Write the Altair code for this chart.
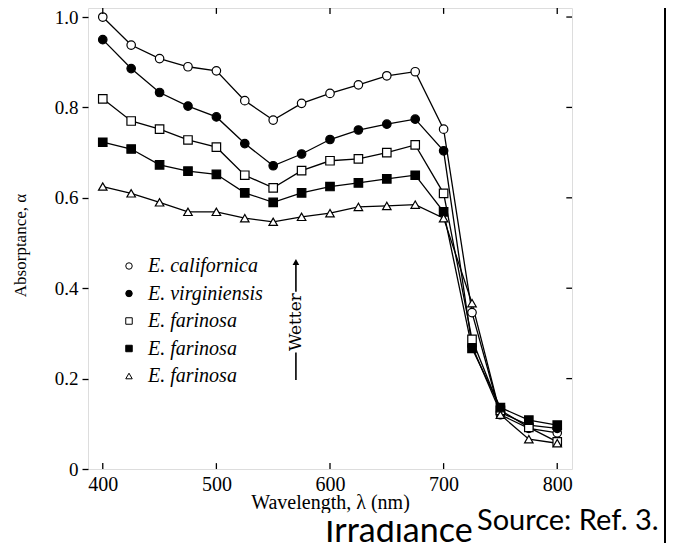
import altair as alt
import pandas as pd

# ---- data ----
wavelengths = [400, 425, 450, 475, 500, 525, 550, 575, 600, 625, 650, 675, 700, 725, 750, 775, 800]
californica = [1.000, 0.938, 0.908, 0.890, 0.881, 0.815, 0.772, 0.809, 0.831, 0.850, 0.870, 0.879, 0.752, 0.346, 0.120, 0.090, 0.080]
virginiensis = [0.950, 0.886, 0.833, 0.803, 0.779, 0.720, 0.671, 0.697, 0.729, 0.750, 0.763, 0.774, 0.704, 0.272, 0.125, 0.097, 0.090]
farinosa_open_sq = [0.819, 0.770, 0.752, 0.728, 0.712, 0.650, 0.622, 0.660, 0.682, 0.686, 0.700, 0.717, 0.610, 0.287, 0.130, 0.092, 0.060]
farinosa_filled_sq = [0.723, 0.708, 0.673, 0.659, 0.652, 0.611, 0.590, 0.611, 0.625, 0.633, 0.642, 0.650, 0.569, 0.267, 0.136, 0.108, 0.097]
farinosa_triangle = [0.625, 0.610, 0.590, 0.569, 0.569, 0.555, 0.547, 0.558, 0.566, 0.580, 0.582, 0.585, 0.555, 0.367, 0.120, 0.066, 0.057]

series_ids = ["E. californica", "E. virginiensis", "E. farinosa|1", "E. farinosa|2", "E. farinosa|3"]
series_values = [californica, virginiensis, farinosa_open_sq, farinosa_filled_sq, farinosa_triangle]
series_shapes = ["circle", "circle", "square", "square", "triangle-up"]
series_fills = ["white", "black", "white", "black", "white"]
series_strokes = ["black", "black", "black", "black", "black"]

x_ticks = [400, 500, 600, 700, 800]
y_ticks = [0, 0.2, 0.4, 0.6, 0.8, 1.0]
y_right_ticks = [0.2, 0.4, 0.6, 0.8, 1.0]

x_title = "Wavelength, λ (nm)"
y_title = "Absorptance, α"
source_text = ["Source: Ref. 3."]
irradiance_text = ["Irradiance"]

# Wetter arrow annotation (data coordinates)
wetter_x = 570
wetter_low = [0.197, 0.258]
wetter_high = [0.392, 0.452]
wetter_text_y = 0.325
wetter_head_y = 0.458

X_DOMAIN = [387, 813]
Y_DOMAIN = [0, 1.02]

# ---- build tables ----
rows = []
for sid, vals in zip(series_ids, series_values):
    for w, v in zip(wavelengths, vals):
        rows.append({"series": sid, "wavelength": w, "absorptance": v})
df = pd.DataFrame(rows)

xs = alt.Scale(domain=X_DOMAIN, nice=False, zero=False)
ys = alt.Scale(domain=Y_DOMAIN, nice=False, zero=False)

FONT = "Liberation Serif"

x_axis = alt.Axis(
    values=x_ticks, ticks=False, domain=False, grid=False,
    labelFont=FONT, labelFontSize=20, labelColor="black", labelPadding=5,
    title=x_title, titleFont=FONT, titleFontSize=20, titleFontWeight="normal",
    titleColor="black", titleY=39, titleBaseline="alphabetic",
)
y_axis = alt.Axis(
    values=y_ticks, ticks=True, tickSize=6, tickColor="black", tickWidth=1.3,
    domain=False, grid=False,
    labelExpr="datum.value == 0 ? '0' : format(datum.value, '.1f')",
    labelFont=FONT, labelFontSize=19, labelColor="black", labelPadding=4,
    title=y_title, titleFont=FONT, titleFontSize=17, titleFontWeight="normal",
    titleColor="black", titlePadding=25, titleY=237,
)

base = alt.Chart(df)

lines = base.mark_line(color="black", strokeWidth=1.3).encode(
    x=alt.X("wavelength:Q", scale=xs, axis=x_axis),
    y=alt.Y("absorptance:Q", scale=ys, axis=y_axis),
    detail="series:N",
)

legend = alt.Legend(
    title=None, orient="none", legendX=31, legendY=248, padding=0,
    labelExpr="split(datum.label, '|')[0]",
    labelFont=FONT, labelFontStyle="italic", labelFontSize=20, labelColor="black",
    labelOffset=9, symbolSize=42, symbolStrokeWidth=1,
    symbolOpacity=1, rowPadding=7.5,
)

points = base.mark_point(filled=True, strokeWidth=1.2, size=72, opacity=1).encode(
    x=alt.X("wavelength:Q", scale=xs),
    y=alt.Y("absorptance:Q", scale=ys),
    shape=alt.Shape("series:N", scale=alt.Scale(domain=series_ids, range=series_shapes), legend=legend),
    fill=alt.Fill("series:N", scale=alt.Scale(domain=series_ids, range=series_fills), legend=legend),
    stroke=alt.Stroke("series:N", scale=alt.Scale(domain=series_ids, range=series_strokes), legend=legend),
)

# inward ticks on bottom, top and right (data-driven through the scales)
tick_len_y = 0.013
tick_len_x = 5
bottom_ticks = pd.DataFrame({"x": x_ticks, "y": [Y_DOMAIN[0]] * 5, "y2": [Y_DOMAIN[0] + tick_len_y] * 5})
top_ticks = pd.DataFrame({"x": x_ticks, "y": [Y_DOMAIN[1]] * 5, "y2": [Y_DOMAIN[1] - tick_len_y] * 5})
right_ticks = pd.DataFrame({"y": y_right_ticks, "x": [X_DOMAIN[1]] * 5, "x2": [X_DOMAIN[1] - tick_len_x] * 5})

vt = alt.Chart(pd.concat([bottom_ticks, top_ticks])).mark_rule(color="black", strokeWidth=1.3).encode(
    x=alt.X("x:Q", scale=xs), y=alt.Y("y:Q", scale=ys), y2="y2:Q")
ht = alt.Chart(right_ticks).mark_rule(color="black", strokeWidth=1.3).encode(
    y=alt.Y("y:Q", scale=ys), x=alt.X("x:Q", scale=xs), x2="x2:Q")

# Wetter arrow
wet_lines = pd.DataFrame({"x": [wetter_x, wetter_x], "y": [wetter_low[0], wetter_high[0]],
                          "y2": [wetter_low[1], wetter_high[1]]})
wl_rule = alt.Chart(wet_lines).mark_rule(color="black", strokeWidth=1.6).encode(
    x=alt.X("x:Q", scale=xs), y=alt.Y("y:Q", scale=ys), y2="y2:Q")
wet_head = alt.Chart(pd.DataFrame({"x": [wetter_x], "y": [wetter_head_y]})).mark_point(
    shape="triangle-up", filled=True, color="black", size=45, opacity=1).encode(
    x=alt.X("x:Q", scale=xs), y=alt.Y("y:Q", scale=ys))
wet_text = alt.Chart(pd.DataFrame({"x": [wetter_x], "y": [wetter_text_y], "t": ["Wetter"]})).mark_text(
    angle=270, font="DejaVu Serif", fontSize=17, color="black", align="center", baseline="middle").encode(
    x=alt.X("x:Q", scale=xs), y=alt.Y("y:Q", scale=ys), text="t:N")

# slide decorations
src = alt.Chart(pd.DataFrame({"t": source_text})).mark_text(
    font="Lato", fontSize=29, color="black", align="left", baseline="alphabetic").encode(
    x=alt.value(389), y=alt.value(522), text="t:N")
irr = alt.Chart(pd.DataFrame({"t": irradiance_text})).mark_text(
    font="Lato", fontSize=34, color="black", align="left", baseline="alphabetic").encode(
    x=alt.value(237), y=alt.value(534), text="t:N")
irr_mask = alt.Chart(pd.DataFrame({"t": irradiance_text})).mark_rect(color="white").encode(
    x=alt.value(230), x2=alt.value(386), y=alt.value(505), y2=alt.value(513))
border = alt.Chart(pd.DataFrame({"t": ["b"]})).mark_rule(color="black", strokeWidth=2).encode(
    x=alt.value(577), y=alt.value(0), y2=alt.value(535))

chart = alt.layer(
    lines, points, vt, ht, wl_rule, wet_head, wet_text, irr, irr_mask, src, border
).properties(
    width=484, height=461,
    autosize=alt.AutoSizeParams(type="none"),
    padding={"left": 80, "top": 0, "right": 95, "bottom": 74},
).configure_view(stroke="black", strokeWidth=1.6).configure(background="white")

chart.save("out.html", embed_options={"renderer": "svg", "actions": False})
